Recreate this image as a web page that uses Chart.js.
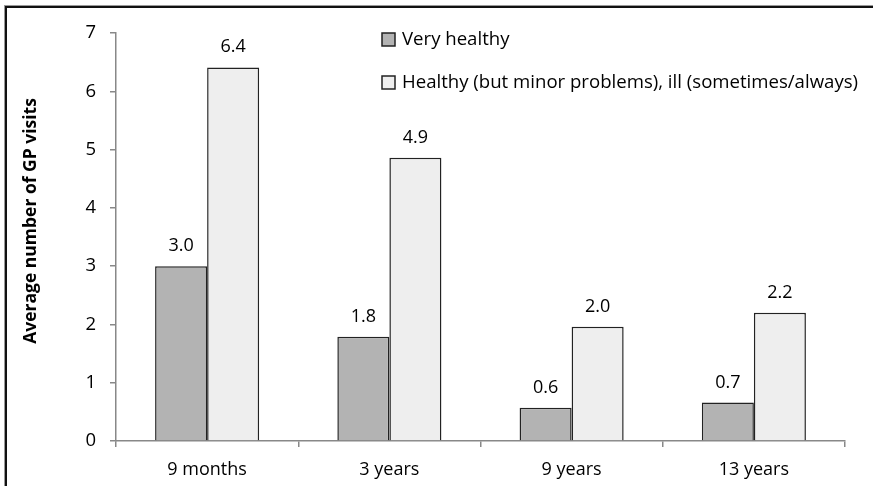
<!DOCTYPE html>
<html>
<head>
<meta charset="utf-8">
<script src="https://cdn.jsdelivr.net/npm/chart.js@4/dist/chart.umd.min.js"></script>
<style>
  html, body { margin: 0; padding: 0; background: #fff; }
  #wrap { position: relative; width: 873px; height: 486px; overflow: hidden; }
  #frame { position: absolute; left: 5px; top: 6px; width: 900px; height: 500px;
           border-top: 2px solid #111; border-left: 2px solid #111;
           box-shadow: -1px -1px 0 #999; }
  canvas { position: absolute; left: 0; top: 0; }
</style>
</head>
<body>
<div id="wrap">
  <div id="frame"></div>
  <canvas id="c" width="873" height="486"></canvas>
</div>
<script>
const categories = ["9 months", "3 years", "9 years", "13 years"];
const seriesNames = ["Very healthy", "Healthy (but minor problems), ill (sometimes/always)"];
const veryHealthy = [3.0, 1.79, 0.57, 0.66];
const healthyIll = [6.41, 4.86, 1.96, 2.2];
const yTicks = [0, 1, 2, 3, 4, 5, 6, 7];
const yTitle = "Average number of GP visits";

const FONT = "'Open Sans', sans-serif";

const labelsPlugin = {
  id: 'labelsPlugin',
  afterDatasetsDraw(chart) {
    const ctx = chart.ctx;
    ctx.save();
    ctx.font = "18px " + FONT;
    ctx.fillStyle = "#000";
    ctx.textAlign = "center";
    ctx.textBaseline = "alphabetic";
    chart.data.datasets.forEach((ds, i) => {
      chart.getDatasetMeta(i).data.forEach((bar, j) => {
        ctx.fillText(ds.data[j].toFixed(1), bar.x, bar.y - 15);
      });
    });
    // legend
    const lx = 382, ly = [39, 82];
    ctx.font = "18.6px " + FONT;
    chart.data.datasets.forEach((ds, i) => {
      ctx.fillStyle = ds.backgroundColor;
      ctx.strokeStyle = "#222";
      ctx.lineWidth = 1.5;
      ctx.fillRect(lx, ly[i] - 6, 13, 13);
      ctx.strokeRect(lx, ly[i] - 6, 13, 13);
      ctx.fillStyle = "#000";
      ctx.textAlign = "left";
      ctx.textBaseline = "middle";
      ctx.fillText(ds.label, lx + 20, ly[i] + 1);
    });
    // y title
    ctx.translate(31, 221);
    ctx.rotate(-Math.PI / 2);
    ctx.font = "bold 17.5px " + FONT;
    ctx.textAlign = "center";
    ctx.textBaseline = "middle";
    ctx.fillText(yTitle, 0, 0);
    ctx.restore();
  }
};

new Chart(document.getElementById('c'), {
  type: 'bar',
  data: {
    labels: categories,
    datasets: [
      { label: seriesNames[0], data: veryHealthy, backgroundColor: "#b3b3b3", borderColor: "#222", borderWidth: 1.5 },
      { label: seriesNames[1], data: healthyIll, backgroundColor: "#eeeeee", borderColor: "#222", borderWidth: 1.5 }
    ]
  },
  options: {
    responsive: false,
    animation: false,
    devicePixelRatio: 1,
    layout: { padding: { left: 0, top: 33, right: 28, bottom: 0 } },
    plugins: { legend: { display: false }, tooltip: { enabled: false } },
    datasets: { bar: { categoryPercentage: 0.571, barPercentage: 1.0 } },
    scales: {
      x: {
        grid: { display: true, drawOnChartArea: false, drawTicks: true, tickLength: 6, color: "#888", lineWidth: 1.5, offset: true },
        border: { display: true, color: "#888", width: 1.5 },
        ticks: { color: "#000", font: { family: FONT, size: 18 }, padding: 12 },
        afterFit(s) { s.height = 45; }
      },
      y: {
        min: 0, max: 7,
        afterBuildTicks(s) { s.ticks = yTicks.map(v => ({ value: v })); },
        grid: { display: true, drawOnChartArea: false, drawTicks: true, tickLength: 6, color: "#888", lineWidth: 1.5 },
        border: { display: true, color: "#888", width: 1.5 },
        ticks: { color: "#000", font: { family: FONT, size: 18.5 }, padding: 14 },
        afterFit(s) { s.width = 116; }
      }
    }
  },
  plugins: [labelsPlugin]
});
</script>
</body>
</html>
